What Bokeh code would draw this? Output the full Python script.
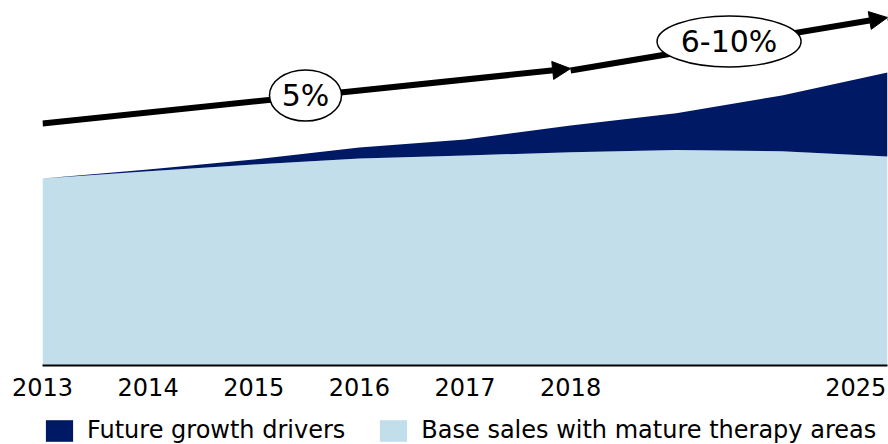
from bokeh.plotting import figure
from bokeh.layouts import column
from bokeh.models import (ColumnDataSource, Range1d, FixedTicker, Arrow, NormalHead,
                          Legend, LegendItem)
from bokeh.core.properties import value
from bokeh.embed import file_html
from bokeh.resources import INLINE

# ---- data (index: 2013 = 100) ----
period_pos = [0, 1, 2, 3, 4, 5, 6, 7, 8]
base_sales = [100, 103.9, 107.5, 110.7, 112.3, 114.1, 115.3, 114.6, 111.8]
growth_drivers = [0, 0.9, 2.7, 5.9, 8.6, 14.2, 19.6, 29.8, 44.9]

tick_pos = [0, 1, 2, 3, 4, 5, 7.70]
tick_labels = ["2013", "2014", "2015", "2016", "2017", "2018", "2025"]

series_names = ["Future growth drivers", "Base sales with mature therapy areas"]

# growth trend arrows and CAGR labels
arrow_x0 = [0, 5.0]
arrow_y0 = [129.4, 157.8]
arrow_x1 = [5.0, 8.0]
arrow_y1 = [158.8, 186.1]
cagr_text = ["5%", "6-10%"]
cagr_x = [2.49, 6.50]
cagr_y = [144.4, 173.3]
cagr_w = [72, 144]

DARK = "#001965"
LIGHT = "#C2DEEA"
FONT = "DejaVu Sans"

top = [b + g for b, g in zip(base_sales, growth_drivers)]
src = ColumnDataSource(dict(x=period_pos, base=base_sales, top=top,
                            zero=[0] * len(period_pos)))

p = figure(width=888, height=410, output_backend="svg", toolbar_location=None,
           x_range=Range1d(0, 8), y_range=Range1d(0, 195.2),
           min_border_left=42, min_border_right=1, min_border_top=0,
           min_border_bottom=45)
p.outline_line_color = None
p.xgrid.visible = False
p.ygrid.visible = False
p.yaxis.visible = False
p.background_fill_color = "white"
p.border_fill_color = "white"

r_base = p.varea(x="x", y1="zero", y2="base", source=src, fill_color=LIGHT)
r_growth = p.varea(x="x", y1="base", y2="top", source=src, fill_color=DARK)

ax = p.xaxis[0]
ax.ticker = FixedTicker(ticks=tick_pos)
ax.major_label_overrides = {t: l for t, l in zip(tick_pos, tick_labels)}
ax.major_tick_out = 0
ax.major_tick_in = 0
ax.minor_tick_out = 0
ax.minor_tick_in = 0
ax.axis_line_width = 2
ax.axis_line_color = "black"
ax.major_label_standoff = 12
ax.major_label_text_font = FONT
ax.major_label_text_font_size = "24px"
ax.major_label_text_color = "black"

for x0, y0, x1, y1 in zip(arrow_x0, arrow_y0, arrow_x1, arrow_y1):
    a = Arrow(x_start=x0, y_start=y0, x_end=x1, y_end=y1, line_width=6,
              line_color="black",
              end=NormalHead(size=18, fill_color="black", line_color="black"),
              level="underlay")
    p.add_layout(a)

csrc = ColumnDataSource(dict(x=cagr_x, y=cagr_y, t=cagr_text, w=cagr_w))
p.ellipse(x="x", y="y", width="w", height=51, width_units="screen",
          height_units="screen", source=csrc, fill_color="white",
          line_color="black", line_width=1.5)
p.text(x="x", y="y", text="t", source=csrc, text_align="center",
       text_baseline="middle", text_font=value(FONT), text_font_size="30px",
       text_color="black")

# ---- legend strip (same series, drawn outside this strip's visible range) ----
lf = figure(width=888, height=34, output_backend="svg", toolbar_location=None,
            x_range=Range1d(0, 8), y_range=Range1d(-2, -1),
            x_axis_location=None, y_axis_location=None,
            min_border_left=0, min_border_right=0, min_border_top=0,
            min_border_bottom=0)
lf.outline_line_color = None
lf.xgrid.visible = False
lf.ygrid.visible = False
lg_base = lf.varea(x="x", y1="zero", y2="base", source=src, fill_color=LIGHT)
lg_growth = lf.varea(x="x", y1="base", y2="top", source=src, fill_color=DARK)

legend = Legend(items=[LegendItem(label=series_names[0], renderers=[lg_growth]),
                       LegendItem(label=series_names[1], renderers=[lg_base])],
                orientation="horizontal", location=(0, 0),
                glyph_width=34, glyph_height=27, label_standoff=11, spacing=31,
                padding=0, margin=0, border_line_color=None,
                background_fill_alpha=0, label_text_font=FONT,
                label_text_font_size="24px", label_text_color="black")
lf.add_layout(legend, "center")

layout = column(p, lf, spacing=0)
open("out.html", "w").write(file_html(layout, INLINE))
